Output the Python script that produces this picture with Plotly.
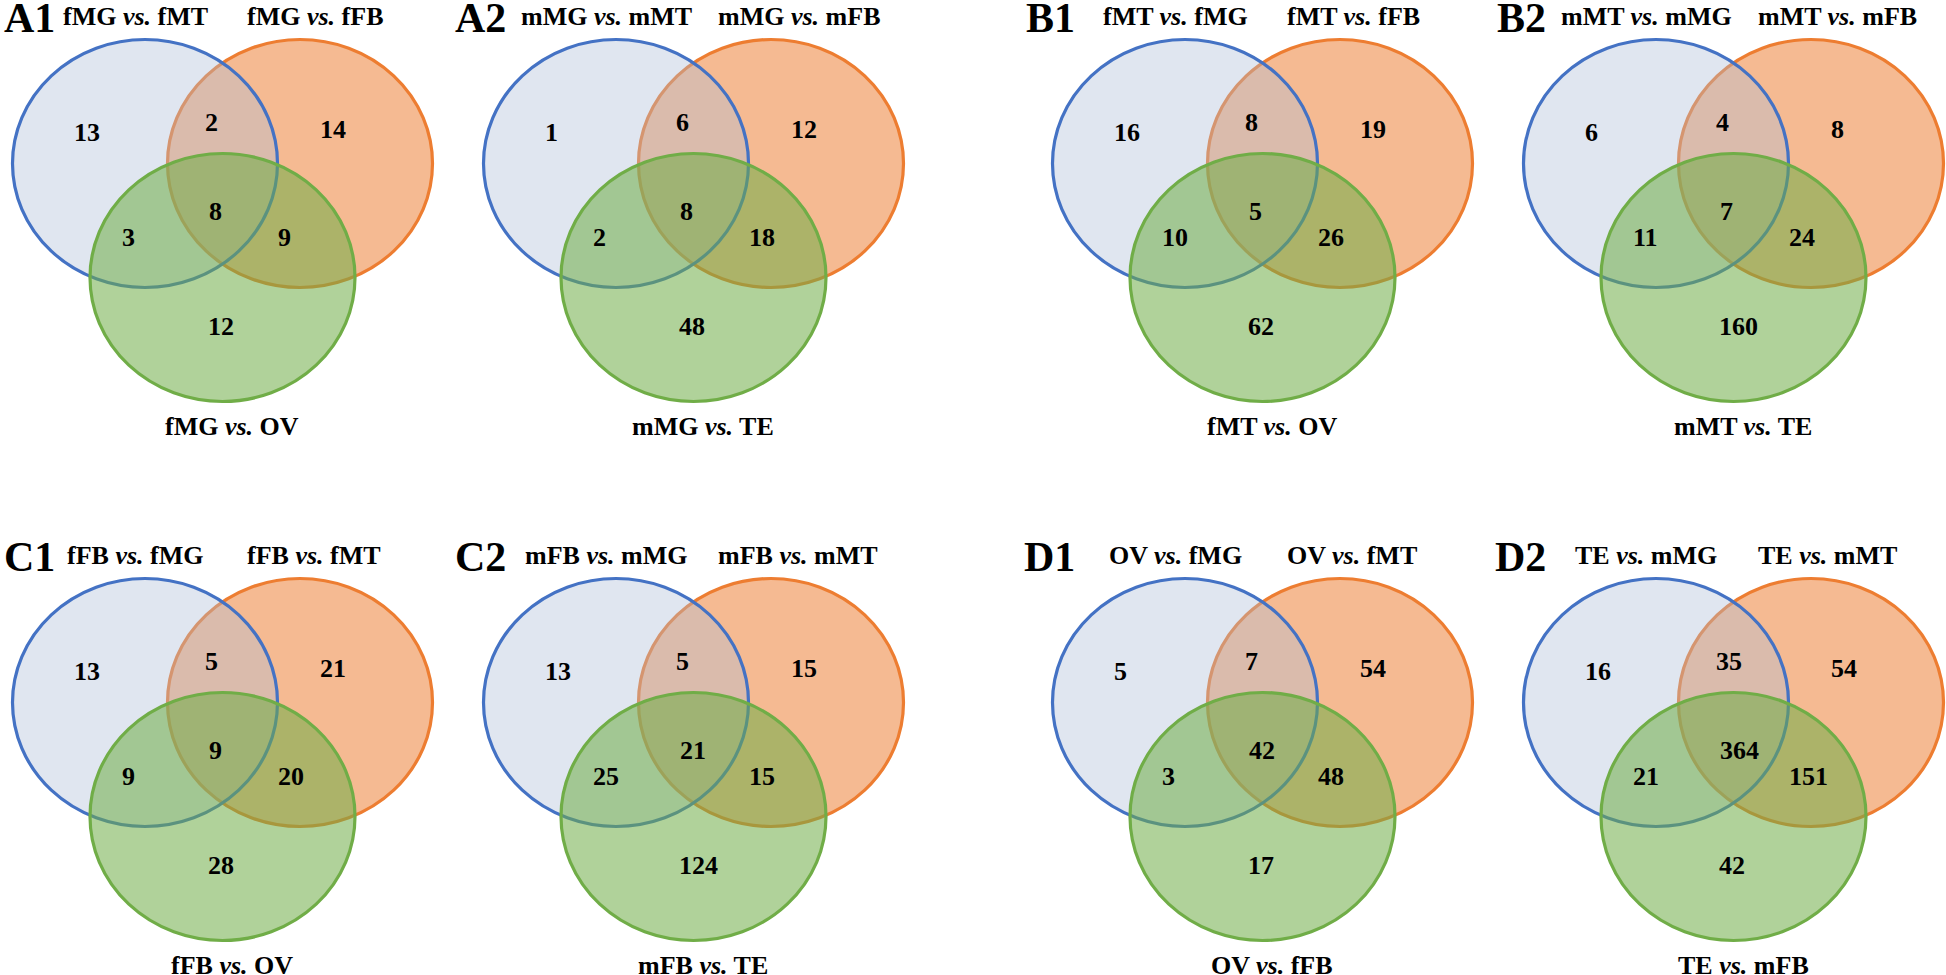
import plotly.graph_objects as go

# panel ids, in reading order (two rows of four)
panels = ["A1", "A2", "B1", "B2", "C1", "C2", "D1", "D2"]

# set labels: left circle, right circle, bottom circle
left_labels = ["fMG", "mMG", "fMT", "mMT", "fFB", "mFB", "OV", "TE"]
left_vs = ["fMT", "mMT", "fMG", "mMG", "fMG", "mMG", "fMG", "mMG"]
right_vs = ["fFB", "mFB", "fFB", "mFB", "fMT", "mMT", "fMT", "mMT"]
bottom_vs = ["OV", "TE", "OV", "TE", "OV", "TE", "fFB", "mFB"]

# region counts: A only, A&B, B only, A&C, A&B&C, B&C, C only
a_only = [13, 1, 16, 6, 13, 13, 5, 16]
ab = [2, 6, 8, 4, 5, 5, 7, 35]
b_only = [14, 12, 19, 8, 21, 15, 54, 54]
ac = [3, 2, 10, 11, 9, 25, 3, 21]
abc = [8, 8, 5, 7, 9, 21, 42, 364]
bc = [9, 18, 26, 24, 20, 15, 48, 151]
c_only = [12, 48, 62, 160, 28, 124, 17, 42]

W, H = 1946, 975
FONT = "Liberation Serif, Times New Roman, serif"

col_x = [145, 616, 1185, 1656]
row_y = [163.5, 702.5]
RX, RY = 132.5, 124

# circle styles: orange drawn first, then blue, then green on top
circles = [
    # (dx, dy, fill, line)
    (155, 0, "rgba(237,125,49,0.53)", "#ed7d31"),
    (0, 0, "rgba(173,189,215,0.38)", "#4472c4"),
    (77.5, 114, "rgba(112,173,71,0.55)", "#70ad47"),
]

# where each count sits relative to the left circle centre (left edge, middle)
region_offsets = [(-73, -31), (58, -41), (173, -34), (-25, 73.5),
                  (62, 47.5), (131, 73.5), (61, 162.5)]

fig = go.Figure()


def vs_text(a, b):
    return f"<b>{a} <i>vs.</i> {b}</b>"


for i, name in enumerate(panels):
    cx = col_x[i % 4]
    cy = row_y[i // 4]

    for dx, dy, fill, line in circles:
        fig.add_shape(
            type="circle", xref="x", yref="y",
            x0=cx + dx - RX, x1=cx + dx + RX,
            y0=cy + dy - RY, y1=cy + dy + RY,
            fillcolor=fill, line=dict(color=line, width=3.2), layer="above"
        )

    counts = [a_only[i], ab[i], b_only[i], ac[i], abc[i], bc[i], c_only[i]]
    for (ox, oy), n in zip(region_offsets, counts):
        fig.add_annotation(
            x=cx + ox, y=cy + oy, text=f"<b>{n}</b>", showarrow=False,
            xanchor="left", yanchor="middle",
            font=dict(family=FONT, size=26, color="black")
        )

    # panel letter
    if i % 4 == 0:
        fig.add_annotation(x=2, y=cy - 146, text=f"<b>{name}</b>", showarrow=False,
                           xanchor="left", yanchor="middle",
                           font=dict(family=FONT, size=42, color="black"))
    else:
        fig.add_annotation(x=cx - 108, y=cy - 146, text=f"<b>{name}</b>", showarrow=False,
                           xanchor="right", yanchor="middle",
                           font=dict(family=FONT, size=42, color="black"))

    fig.add_annotation(x=cx - 10, y=cy - 147, text=vs_text(left_labels[i], left_vs[i]),
                       showarrow=False, xanchor="center", yanchor="middle",
                       font=dict(family=FONT, size=26, color="black"))
    fig.add_annotation(x=cx + 100, y=cy - 147, text=vs_text(left_labels[i], right_vs[i]),
                       showarrow=False, xanchor="left", yanchor="middle",
                       font=dict(family=FONT, size=26, color="black"))
    fig.add_annotation(x=cx + 87, y=cy + 263, text=vs_text(left_labels[i], bottom_vs[i]),
                       showarrow=False, xanchor="center", yanchor="middle",
                       font=dict(family=FONT, size=26, color="black"))

fig.update_layout(
    width=W, height=H,
    margin=dict(l=0, r=0, t=0, b=0),
    paper_bgcolor="white", plot_bgcolor="white",
    showlegend=False,
    xaxis=dict(range=[0, W], visible=False, fixedrange=True),
    yaxis=dict(range=[H, 0], visible=False, fixedrange=True),
)

# page body has a default margin; drop it so the figure sits at the window corner
fig.write_html("out.html", config={"displayModeBar": False},
               post_script="document.body.style.margin='0';document.body.style.overflow='hidden';")
